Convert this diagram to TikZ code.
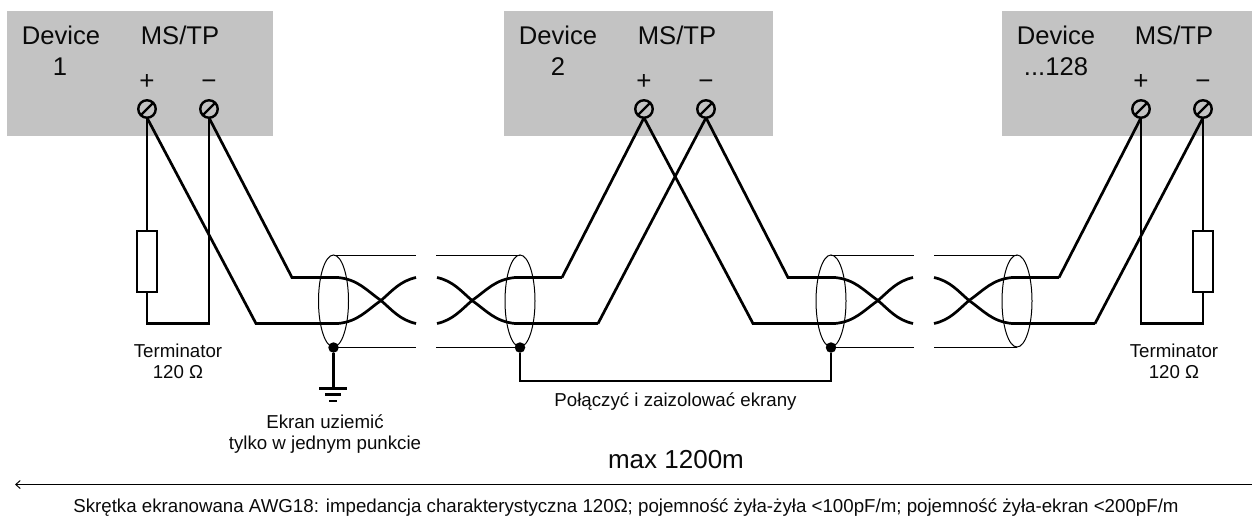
\documentclass[tikz,border=0pt]{standalone}
\usepackage{fontspec}
\setmainfont{Liberation Sans}
\usetikzlibrary{arrows.meta,shapes.geometric}
\definecolor{boxgray}{RGB}{195,195,195}
\definecolor{ink}{RGB}{10,10,10}
\tikzset{
 x=1pt,y=-1pt,
 devbox/.style={fill=boxgray,draw=none,minimum width=266pt,minimum height=125pt,anchor=north west,inner sep=0pt,outer sep=0pt},
 bigtxt/.style={font=\fontsize{25.6}{30}\selectfont,text=ink,inner sep=0pt,anchor=base},
 signtxt/.style={font=\fontsize{26}{30}\selectfont,text=ink,inner sep=0pt,anchor=base},
 smalltxt/.style={font=\fontsize{18.7}{21}\selectfont,text=ink,inner sep=0pt,align=center,anchor=base},
 terminal/.style={circle,draw=black,line width=2.4pt,minimum size=17.5pt,inner sep=0pt,outer sep=0pt,fill=none,
   path picture={\draw[line width=2.4pt] (path picture bounding box.south west)--(path picture bounding box.north east);}},
 wire/.style={line width=2.7pt,draw=black,line join=miter},
 thin wire/.style={line width=1pt,draw=black},
 resistor/.style={draw=black,line width=2.7pt,fill=white,minimum width=20pt,minimum height=61pt,inner sep=0pt,outer sep=0pt},
 shield/.style={ellipse,draw=black,line width=1pt,minimum width=30pt,minimum height=92pt,inner sep=0pt,outer sep=0pt,fill=none},
 jdot/.style={circle,fill=black,minimum size=10.5pt,inner sep=0pt},
}
\begin{document}
\begin{tikzpicture}
\useasboundingbox (0,0) rectangle (1252,515);
\node[devbox] (boxa) at (7,11) {};
\node[devbox,minimum width=269pt] (boxb) at (504,11) {};
\node[devbox,minimum width=250pt] (boxc) at (1002,11) {};
% labels
\node[bigtxt] (d1) at (61,44) {Device};
\node[bigtxt] (d1n) at (60,75.5) {1};
\node[bigtxt] (m1) at (180,44) {MS/TP};
\node[signtxt] (p1) at (147,89) {+};
\node[signtxt] (n1) at (209,89) {−};
\node[bigtxt] (d2) at (558,44) {Device};
\node[bigtxt] (d2n) at (558,75.5) {2};
\node[bigtxt] (m2) at (677,44) {MS/TP};
\node[signtxt] (p2) at (644,89) {+};
\node[signtxt] (n2) at (706,89) {−};
\node[bigtxt] (d3) at (1056,44) {Device};
\node[bigtxt] (d3n) at (1056,75.5) {...128};
\node[bigtxt] (m3) at (1174,44) {MS/TP};
\node[signtxt] (p3) at (1141,89) {+};
\node[signtxt] (n3) at (1203,89) {−};
% terminals
\node[terminal] (ta) at (147,109) {};
\node[terminal] (tb) at (209,109) {};
\node[terminal] (tc) at (644,109) {};
\node[terminal] (td) at (706,109) {};
\node[terminal] (te) at (1141,109) {};
\node[terminal] (tf) at (1203,109) {};
% resistors
\node[resistor] (ra) at (147,261.5) {};
\node[resistor] (rb) at (1203,261.5) {};
\draw[wire] (ta.south) -- (ra.north);
\draw[wire] (ra.south) -- (147,323.5) -- (209,323.5) -- (tb.south);
\draw[wire] (rb.north) -- (tf.south);
\draw[wire] (rb.south) -- (1203,323.5) -- (1141,323.5) -- (te.south);
% section coordinates
\coordinate (la) at (256,323.5);
\coordinate (lb) at (292,277.5);
\coordinate (ma) at (562,277.5);
\coordinate (mb) at (598,323.5);
\coordinate (mc) at (753,323.5);
\coordinate (md) at (788,277.5);
\coordinate (ra2) at (1059,277.5);
\coordinate (rb2) at (1095,323.5);
% wires
\draw[wire] (ta.south) -- (la) -- (338,323.5) .. controls (358,321.5) and (366,311) .. (381,300.5) .. controls (392,291) and (400,281) .. (416,277.5);
\draw[wire] (tb.south) -- (lb) -- (338,277.5) .. controls (358,279.5) and (366,290) .. (381,300.5) .. controls (392,310) and (400,320) .. (416,323.5);
\draw[wire] (ma) -- (515,277.5) .. controls (495,279.5) and (487,290) .. (472,300.5) .. controls (461,310) and (453,320) .. (437,323.5);
\draw[wire] (mb) -- (515,323.5) .. controls (495,321.5) and (487,311) .. (472,300.5) .. controls (461,291) and (453,281) .. (437,277.5);
\draw[wire] (tc.south) -- (ma);
\draw[wire] (td.south) -- (mb);
\draw[wire] (tc.south) -- (mc) -- (835,323.5) .. controls (855,321.5) and (863,311) .. (878,300.5) .. controls (889,291) and (897,281) .. (913,277.5);
\draw[wire] (td.south) -- (md) -- (835,277.5) .. controls (855,279.5) and (863,290) .. (878,300.5) .. controls (889,310) and (897,320) .. (913,323.5);
\draw[wire] (ra2) -- (1012,277.5) .. controls (992,279.5) and (984,290) .. (969,300.5) .. controls (958,310) and (950,320) .. (934,323.5);
\draw[wire] (rb2) -- (1012,323.5) .. controls (992,321.5) and (984,311) .. (969,300.5) .. controls (958,291) and (950,281) .. (934,277.5);
\draw[wire] (te.south) -- (ra2);
\draw[wire] (tf.south) -- (rb2);
% shields
\node[shield] (s1) at (333.5,301) {};
\node[shield] (s2) at (520,301) {};
\node[shield] (s3) at (831,301) {};
\node[shield] (s4) at (1017,301) {};
\coordinate (g1) at (416,255); \coordinate (g2) at (436,255);
\coordinate (g3) at (416,347); \coordinate (g4) at (436,347);
\coordinate (g5) at (914,255); \coordinate (g6) at (934,255);
\coordinate (g7) at (914,347); \coordinate (g8) at (934,347);
\draw[thin wire] (s1.north) -- (g1);
\draw[thin wire] (s2.north) -- (g2);
\draw[thin wire] (s1.south) -- (g3);
\draw[thin wire] (s2.south) -- (g4);
\draw[thin wire] (s3.north) -- (g5);
\draw[thin wire] (s4.north) -- (g6);
\draw[thin wire] (s3.south) -- (g7);
\draw[thin wire] (s4.south) -- (g8);
% dots and earth
\node[jdot] (j1) at (333.5,347.5) {};
\node[jdot] (j2) at (520,347.5) {};
\node[jdot] (j3) at (831,347.5) {};
\coordinate (e1) at (333.5,388.5);
\coordinate (e1l) at (319,388.5); \coordinate (e1r) at (347,388.5);
\coordinate (e2l) at (325,394.5); \coordinate (e2r) at (341,394.5);
\coordinate (e3l) at (329,401); \coordinate (e3r) at (337,401);
\coordinate (bt) at (675,381);
\draw[wire] (j1) -- (e1);
\draw[wire] (e1l) -- (e1r);
\draw[wire] (e2l) -- (e2r);
\draw[wire] (e3l) -- (e3r);
\draw[wire] (j2) |- (bt) -| (j3);
% captions
\node[smalltxt] (ta1) at (178,378) {Terminator\\120 Ω};
\node[smalltxt] (ta2) at (1174,378) {Terminator\\120 Ω};
\node[smalltxt] (ekr) at (325,449) {Ekran uziemić\\tylko w jednym punkcie};
\node[smalltxt] (pol) at (675.5,406.5) {Połączyć i zaizolować ekrany};
\node[font=\fontsize{26}{30}\selectfont,text=ink,inner sep=0pt,anchor=base] (mx) at (676,468) {max 1200m};
\coordinate (al) at (15,484.5); \coordinate (ar) at (1252,484.5);
\draw[line width=1pt,-{Straight Barb[length=4.5pt,width=8pt]}] (ar) -- (al);
\node[smalltxt] (cab) at (626,512) {Skrętka ekranowana AWG18: impedancja charakterystyczna 120Ω; pojemność żyła-żyła <100pF/m; pojemność żyła-ekran <200pF/m};
\end{tikzpicture}
\end{document}
